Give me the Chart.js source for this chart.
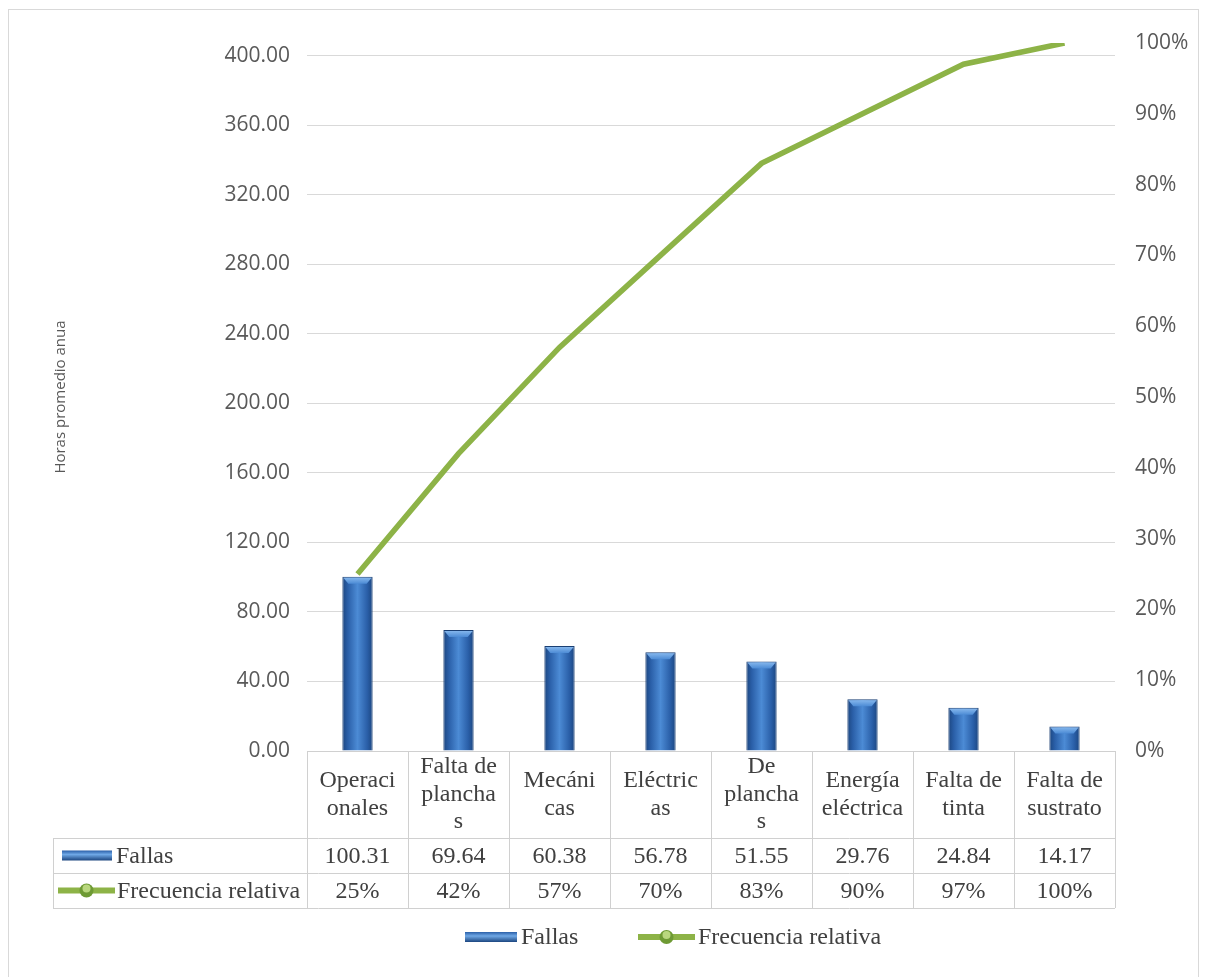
<!DOCTYPE html>
<html>
<head>
<meta charset="utf-8">
<script src="https://cdn.jsdelivr.net/npm/chart.js@4.4.1/dist/chart.umd.min.js"></script>
<style>
  body { margin: 0; background: #fff; }
  canvas { display: block; }
</style>
</head>
<body>
<canvas id="pareto" width="1205" height="977"></canvas>
<script>
// categories, already broken into lines the way the data table shows them
const categories = [
  ['Operaci', 'onales'],
  ['Falta de', 'plancha', 's'],
  ['Mecáni', 'cas'],
  ['Eléctric', 'as'],
  ['De', 'plancha', 's'],
  ['Energía', 'eléctrica'],
  ['Falta de', 'tinta'],
  ['Falta de', 'sustrato']
];
const fallas = [100.31, 69.64, 60.38, 56.78, 51.55, 29.76, 24.84, 14.17];
const frecuencia = [0.25, 0.42, 0.57, 0.70, 0.83, 0.90, 0.97, 1.00];
const totalHoras = 407.43;

const serif = '"Liberation Serif", "Times New Roman", serif';
const textColor = '#404040';
const lineColor = '#8DB347';
const gridColor = '#d9d9d9';

function barGradient(ctx, x0, x1, y0, y1) {
  const g = ctx.createLinearGradient(x0, y0, x1, y1);
  g.addColorStop(0, '#1C4680');
  g.addColorStop(0.18, '#2A5FA8');
  g.addColorStop(0.5, '#4C8BD5');
  g.addColorStop(0.82, '#2A5FA8');
  g.addColorStop(1, '#1C4680');
  return g;
}

function drawLineSwatch(ctx, x0, x1, y) {
  ctx.save();
  ctx.strokeStyle = lineColor;
  ctx.lineWidth = 6;
  ctx.beginPath();
  ctx.moveTo(x0, y);
  ctx.lineTo(x1, y);
  ctx.stroke();
  const cx = (x0 + x1) / 2;
  ctx.fillStyle = '#6E9A34';
  ctx.beginPath();
  ctx.arc(cx, y, 7, 0, Math.PI * 2);
  ctx.fill();
  ctx.fillStyle = '#B9D77E';
  ctx.beginPath();
  ctx.arc(cx, y - 2, 4, 0, Math.PI * 2);
  ctx.fill();
  ctx.restore();
}

function drawBarSwatch(ctx, x0, x1, y) {
  ctx.save();
  const g = ctx.createLinearGradient(0, y - 5, 0, y + 5);
  g.addColorStop(0, '#2A5FA8');
  g.addColorStop(0.4, '#6FA8E6');
  g.addColorStop(1, '#1C4680');
  ctx.fillStyle = g;
  ctx.fillRect(x0, y - 5, x1 - x0, 10);
  ctx.restore();
}

// light bevel on top of each bar, drawn before the line goes over it
const bevelPlugin = {
  id: 'bevel',
  afterDatasetDraw(chart, args) {
    if (args.meta.type !== 'bar') return;
    const ctx = chart.ctx;
    ctx.save();
    args.meta.data.forEach(bar => {
      const l = bar.x - bar.width / 2, r = bar.x + bar.width / 2, t = bar.y;
      const g = ctx.createLinearGradient(0, t, 0, t + 7);
      g.addColorStop(0, '#8DBDF0');
      g.addColorStop(1, '#4C8BD5');
      ctx.fillStyle = g;
      ctx.beginPath();
      ctx.moveTo(l + 1, t + 1);
      ctx.lineTo(r - 1, t + 1);
      ctx.lineTo(r - 6, t + 7);
      ctx.lineTo(l + 6, t + 7);
      ctx.closePath();
      ctx.fill();
    });
    ctx.restore();
  }
};

// data table under the plot + legend + outer frame
const tablePlugin = {
  id: 'dataTable',
  afterDraw(chart) {
    const ctx = chart.ctx;
    const x = chart.scales.x;
    const area = chart.chartArea;
    const n = categories.length;
    const cw = (area.right - area.left) / n;
    const top = area.bottom;
    const headBottom = top + 87;
    const row1 = headBottom + 35;
    const row2 = row1 + 35;
    const tableLeft = 53;

    ctx.save();
    ctx.strokeStyle = '#d0d0d0';
    ctx.lineWidth = 1;
    ctx.beginPath();
    ctx.moveTo(area.left, top + 0.5); ctx.lineTo(area.right, top + 0.5);
    [headBottom, row1, row2].forEach(y => {
      ctx.moveTo(tableLeft, y + 0.5); ctx.lineTo(area.right, y + 0.5);
    });
    ctx.moveTo(tableLeft + 0.5, headBottom); ctx.lineTo(tableLeft + 0.5, row2);
    for (let i = 0; i <= n; i++) {
      const px = Math.round(area.left + i * cw) + 0.5;
      ctx.moveTo(px, top); ctx.lineTo(px, row2);
    }
    ctx.stroke();

    ctx.fillStyle = textColor;
    ctx.font = '24px ' + serif;
    ctx.textAlign = 'center';
    ctx.textBaseline = 'middle';
    const lh = 27.5;
    categories.forEach((lines, i) => {
      const cx = x.getPixelForValue(i);
      const mid = (top + headBottom) / 2;
      lines.forEach((t, k) => {
        ctx.fillText(t, cx, mid + (k - (lines.length - 1) / 2) * lh);
      });
      ctx.fillText(fallas[i].toFixed(2), cx, (headBottom + row1) / 2 + 1);
      ctx.fillText(Math.round(frecuencia[i] * 100) + '%', cx, (row1 + row2) / 2 + 1);
    });

    // row headers
    ctx.textAlign = 'left';
    drawBarSwatch(ctx, 62, 112, (headBottom + row1) / 2);
    ctx.fillStyle = textColor;
    ctx.fillText('Fallas', 116, (headBottom + row1) / 2 + 1);
    drawLineSwatch(ctx, 58, 115, (row1 + row2) / 2);
    ctx.fillStyle = textColor;
    ctx.fillText('Frecuencia relativa', 117, (row1 + row2) / 2 + 1);

    // legend
    const ly = 937;
    drawBarSwatch(ctx, 465, 517, ly);
    ctx.fillStyle = textColor;
    ctx.fillText('Fallas', 521, ly + 1);
    drawLineSwatch(ctx, 638, 695, ly);
    ctx.fillStyle = textColor;
    ctx.fillText('Frecuencia relativa', 698, ly + 1);

    // chart frame
    ctx.strokeStyle = '#d9d9d9';
    ctx.strokeRect(8.5, 9.5, 1190, 975);
    ctx.restore();
  }
};

new Chart(document.getElementById('pareto'), {
  data: {
    labels: categories,
    datasets: [
      {
        type: 'line',
        label: 'Frecuencia relativa',
        data: frecuencia,
        yAxisID: 'y2',
        borderColor: lineColor,
        borderWidth: 5.5,
        pointRadius: 0,
        tension: 0,
        order: 0
      },
      {
        type: 'bar',
        label: 'Fallas',
        data: fallas,
        yAxisID: 'y',
        order: 1,
        categoryPercentage: 1,
        barPercentage: 0.3,
        borderColor: '#1A3F73',
        borderWidth: 1,
        borderSkipped: 'bottom',
        backgroundColor(c) {
          const chart = c.chart;
          if (!chart.chartArea || !chart.scales.x) return '#3570BD';
          const cx = chart.scales.x.getPixelForValue(c.dataIndex);
          const w = (chart.chartArea.right - chart.chartArea.left) / categories.length * 0.3;
          return barGradient(chart.ctx, cx - w / 2, cx + w / 2, 0, 0);
        }
      }
    ]
  },
  options: {
    responsive: false,
    animation: false,
    layout: { padding: { left: 48, top: 43, right: 0, bottom: 226 } },
    plugins: {
      legend: { display: false },
      tooltip: { enabled: false }
    },
    scales: {
      x: { display: false },
      y: {
        position: 'left',
        min: 0,
        max: totalHoras,
        afterFit(s) { s.width = 259; },
        border: { display: false },
        grid: { color: gridColor, drawTicks: false },
        ticks: {
          stepSize: 40,
          includeBounds: false,
          padding: 17,
          color: '#595959',
          font: { family: '"Open Sans"', size: 21 },
          callback: v => v.toFixed(2)
        },
        title: {
          display: true,
          text: 'Horas promedio anua',
          color: '#595959',
          font: { family: '"Open Sans"', size: 15 }
        }
      },
      y2: {
        position: 'right',
        min: 0,
        max: 1,
        afterFit(s) { s.width = 90; },
        border: { display: false },
        grid: { display: false, drawTicks: false },
        ticks: {
          stepSize: 0.1,
          padding: 20,
          color: '#595959',
          font: { family: '"Open Sans"', size: 21 },
          callback: v => Math.round(v * 100) + '%'
        }
      }
    }
  },
  plugins: [bevelPlugin, tablePlugin]
});
</script>
</body>
</html>
